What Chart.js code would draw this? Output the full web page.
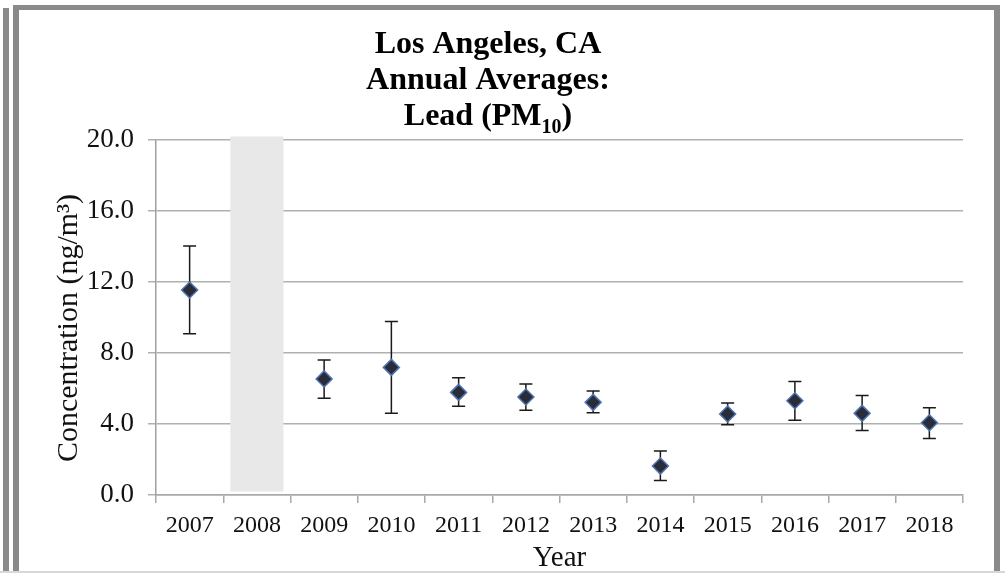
<!DOCTYPE html>
<html>
<head>
<meta charset="utf-8">
<title>Los Angeles, CA - Lead (PM10)</title>
<script src="https://cdn.jsdelivr.net/npm/chart.js@4.4.1/dist/chart.umd.min.js"></script>
<style>
  body { margin: 0; background: #fff; }
  #wrap { position: relative; width: 1005px; height: 573px; }
</style>
</head>
<body>
<div id="wrap"><canvas id="myChart"></canvas></div>
<script>
'use strict'

// dane
var years = ['2007', '2008', '2009', '2010', '2011', '2012', '2013', '2014', '2015', '2016', '2017', '2018'];
var means = [11.55, null, 6.54, 7.19, 5.78, 5.52, 5.22, 1.63, 4.56, 5.31, 4.60, 4.07];
var errHigh = [14.03, null, 7.60, 9.77, 6.61, 6.25, 5.86, 2.48, 5.18, 6.40, 5.60, 4.92];
var errLow = [9.09, null, 5.45, 4.60, 5.00, 4.77, 4.64, 0.81, 3.96, 4.21, 3.64, 3.19];
// brak danych 2008 - szary pas
var noData = [null, [0.2, 20.2], null, null, null, null, null, null, null, null, null, null];
var yTicks = [0, 4, 8, 12, 16, 20];

var serif = '"Liberation Serif", "Times New Roman", serif';

// ramka wokol wykresu
var framePlugin = {
  id: 'frame',
  beforeDraw: function(chart) {
    var ctx = chart.ctx;
    ctx.save();
    ctx.fillStyle = '#fff';
    ctx.fillRect(0, 0, chart.width, chart.height);
    ctx.fillStyle = '#8a8a8a';
    ctx.fillRect(3, 8, 6, 565);
    ctx.fillRect(13, 5, 6, 568);
    ctx.fillRect(13, 5, 987, 5);
    ctx.fillRect(994, 5, 6, 568);
    ctx.fillStyle = '#d8d8d8';
    ctx.fillRect(0, 571, 1005, 2);
    ctx.restore();
  }
};

// tytul z indeksem dolnym + opis osi Y
var titlePlugin = {
  id: 'titleText',
  afterDraw: function(chart) {
    var ctx = chart.ctx;
    var cx = 488;
    ctx.save();
    ctx.fillStyle = '#000';
    ctx.textAlign = 'center';
    ctx.textBaseline = 'alphabetic';
    ctx.font = 'bold 32px ' + serif;
    ctx.fillText('Los Angeles, CA', cx, 53);
    ctx.fillText('Annual Averages:', cx, 89);

    var a = 'Lead (PM', b = '10', c = ')';
    var wa = ctx.measureText(a).width, wc = ctx.measureText(c).width;
    ctx.font = 'bold 20px ' + serif;
    var wb = ctx.measureText(b).width;
    var x0 = cx - (wa + wb + wc) / 2;
    ctx.textAlign = 'left';
    ctx.font = 'bold 32px ' + serif;
    ctx.fillText(a, x0, 125);
    ctx.font = 'bold 20px ' + serif;
    ctx.fillText(b, x0 + wa, 133);
    ctx.font = 'bold 32px ' + serif;
    ctx.fillText(c, x0 + wa + wb, 125);

    // os Y
    ctx.fillStyle = '#111';
    ctx.translate(69, 328);
    ctx.rotate(-Math.PI / 2);
    ctx.textAlign = 'center';
    ctx.textBaseline = 'middle';
    ctx.font = '30px ' + serif;
    ctx.fillText('Concentration (ng/m³)', 0, 0);
    ctx.restore();
  }
};

// slupki bledow
var errorBarPlugin = {
  id: 'errorBars',
  beforeDatasetDraw: function(chart, args) {
    if (args.index !== 1) return;
    var ctx = chart.ctx;
    var yScale = chart.scales.y;
    var meta = chart.getDatasetMeta(1);
    ctx.save();
    ctx.strokeStyle = '#1a1a1a';
    ctx.lineWidth = 1.5;
    meta.data.forEach(function(pt, i) {
      if (means[i] === null) return;
      var x = pt.x;
      var yh = yScale.getPixelForValue(errHigh[i]);
      var yl = yScale.getPixelForValue(errLow[i]);
      ctx.beginPath();
      ctx.moveTo(x, yh); ctx.lineTo(x, yl);
      ctx.moveTo(x - 6.5, yh); ctx.lineTo(x + 6.5, yh);
      ctx.moveTo(x - 6.5, yl); ctx.lineTo(x + 6.5, yl);
      ctx.stroke();
    });
    ctx.restore();
  }
};

var ctx = document.getElementById('myChart').getContext('2d');
var chart = new Chart(ctx, {
  data: {
    labels: years,
    datasets: [{
      type: 'bar',
      data: noData,
      backgroundColor: '#e8e8e8',
      borderWidth: 0,
      barPercentage: 0.79,
      categoryPercentage: 1,
      clip: false,
      order: 2
    },
    {
      type: 'line',
      data: means,
      showLine: false,
      pointStyle: 'rectRot',
      pointRadius: 8,
      pointBackgroundColor: '#2b2c3a',
      pointBorderColor: '#4f74b0',
      pointBorderWidth: 1.5,
      order: 1
    }]
  },
  options: {
    responsive: true,
    maintainAspectRatio: false,
    animation: false,
    events: [],
    layout: { padding: { top: 140, right: 42, left: 20, bottom: 0 } },
    plugins: { legend: { display: false }, tooltip: { enabled: false }, title: { display: false } },
    scales: {
      x: {
        offset: true,
        afterFit: function(scale) { scale.height = 78; },
        grid: { offset: true, drawOnChartArea: false, drawTicks: true, tickLength: 8, color: '#a8a8a8', lineWidth: 1.5 },
        border: { display: true, color: '#a8a8a8', width: 1.5 },
        ticks: { color: '#111', padding: 8, font: { family: serif, size: 24 }, maxRotation: 0 },
        title: { display: true, text: 'Year', color: '#111', padding: { bottom: -3 }, font: { family: serif, size: 29 } }
      },
      y: {
        min: 0,
        max: 20,
        afterFit: function(scale) { scale.width = 136; },
        afterBuildTicks: function(scale) { scale.ticks = yTicks.map(function(v) { return { value: v }; }); },
        grid: { color: '#b0b0b0', lineWidth: 1.5, tickLength: 8 },
        border: { display: true, color: '#a0a0a0', width: 1.5 },
        ticks: {
          color: '#111', padding: 14, font: { family: serif, size: 27 },
          callback: function(v) { return v.toFixed(1); }
        }
      }
    }
  },
  plugins: [framePlugin, errorBarPlugin, titlePlugin]
});
</script>
</body>
</html>
